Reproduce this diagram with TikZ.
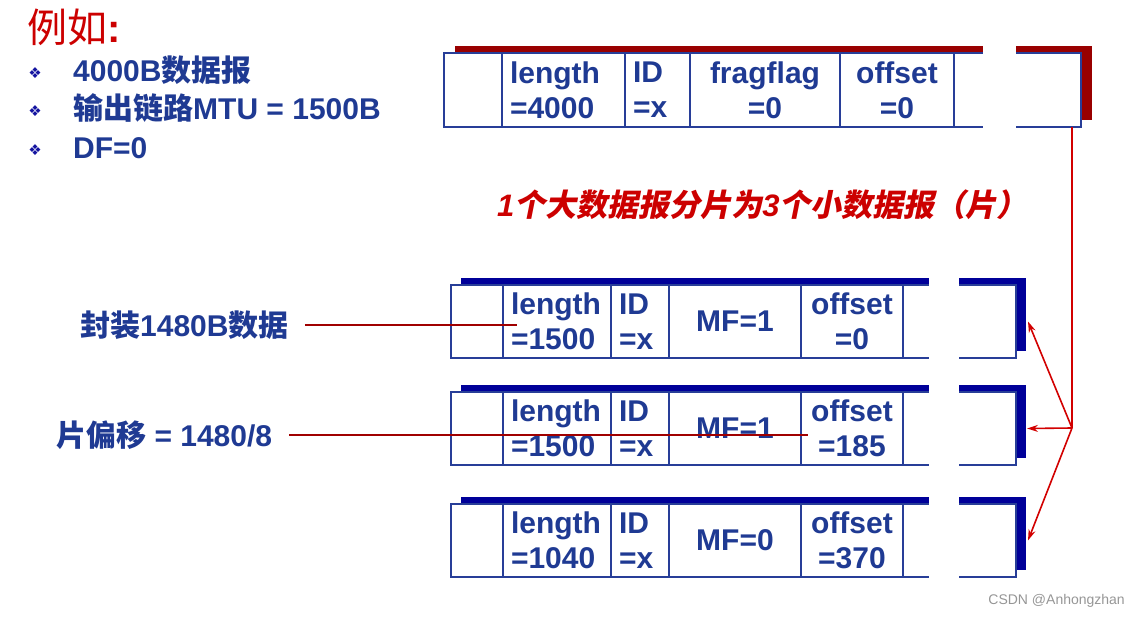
\documentclass[tikz,border=0pt]{standalone}
\usepackage{fontspec}
\setmainfont{Liberation Sans}
\newfontfamily\cjk{Noto Sans CJK SC}
\newfontfamily\cjkit{Noto Sans CJK SC}[FakeSlant=0.2]
\newfontfamily\sym{DejaVu Sans}
\usetikzlibrary{arrows.meta,positioning,backgrounds}

\definecolor{txtblue}{RGB}{31,58,147}
\definecolor{boxblue}{RGB}{40,62,152}
\definecolor{dotblue}{RGB}{20,20,160}
\definecolor{shred}{RGB}{153,0,0}
\definecolor{shnavy}{RGB}{0,0,153}
\definecolor{titlered}{RGB}{204,0,0}
\definecolor{capred}{RGB}{204,0,0}
\definecolor{leadred}{RGB}{160,0,0}
\definecolor{arrred}{RGB}{210,0,0}
\definecolor{wmgray}{RGB}{150,150,150}

\begin{document}
\begin{tikzpicture}[
  x=1pt,y=-1pt,
  cell/.style={draw=boxblue,line width=2pt,fill=white,outer sep=0pt,inner xsep=8pt,inner ysep=0pt,
    minimum height=74pt,text=txtblue,font=\fontsize{30}{35}\selectfont\bfseries},
  frag/.style={cell,minimum height=73pt},
  lbl/.style={text=txtblue,inner sep=0pt,anchor=west,font=\fontsize{30}{34}\selectfont\bfseries},
  dot/.style={text=dotblue,inner sep=0pt,font=\sym\fontsize{15}{15}\selectfont},
  lead/.style={draw=leadred,line width=2pt},
  arr/.style={draw=arrred,line width=1.6pt,-{Stealth[length=11pt,width=7pt]}}
]
\useasboundingbox (0,0) rectangle (1140,620);

% Heading and bullets
\node[anchor=west,inner sep=0pt,text=titlered,font=\fontsize{40}{42}\selectfont] (title) at (27,27) {{\cjk 例如}\textbf{:}};
\node[dot] (m1) at (35,73) {❖};
\node[dot] (m2) at (35,111) {❖};
\node[dot] (m3) at (35,150) {❖};
\node[lbl] (t1) at (73,70) {4000B{\cjk 数据报}};
\node[lbl] (t2) at (73,108) {{\cjk 输出链路}MTU = 1500B};
\node[lbl] (t3) at (73,148) {DF=0};

% Original datagram
\node[cell,text width=42pt,anchor=north west] (d1) at (444,53) {};
\node[cell,text width=107pt,align=left,right=0pt of d1] (d2) {length\\=4000};
\node[cell,text width=49pt,align=left,right=0pt of d2] (d3) {ID\\=x};
\node[cell,text width=134pt,align=center,right=0pt of d3] (d4) {fragflag\\=0};
\node[cell,text width=98pt,align=center,right=0pt of d4] (d5) {offset\\=0};
\node[cell,text width=111pt,right=0pt of d5] (d6) {};

\node[anchor=west,inner sep=0pt,text=capred,font=\fontsize{31}{34}\selectfont\bfseries\itshape] (cap) at (497,205)
  {1{\cjkit 个大数据报分片为}3{\cjkit 个小数据报（片）}};

% Fragment 1
\node[frag,text width=36pt,anchor=north west] (p1) at (451,285) {};
\node[frag,text width=92pt,align=left,right=0pt of p1] (p2) {length\\=1500};
\node[frag,text width=42pt,align=left,right=0pt of p2] (p3) {ID\\=x};
\node[frag,text width=116pt,align=center,right=0pt of p3] (p4) {MF=1};
\node[frag,text width=86pt,align=center,right=0pt of p4] (p5) {offset\\=0};
\node[frag,text width=97pt,right=0pt of p5] (p6) {};
% Fragment 2
\node[frag,text width=36pt,anchor=north west] (q1) at (451,392) {};
\node[frag,text width=92pt,align=left,right=0pt of q1] (q2) {length\\=1500};
\node[frag,text width=42pt,align=left,right=0pt of q2] (q3) {ID\\=x};
\node[frag,text width=116pt,align=center,right=0pt of q3] (q4) {MF=1};
\node[frag,text width=86pt,align=center,right=0pt of q4] (q5) {offset\\=185};
\node[frag,text width=97pt,right=0pt of q5] (q6) {};
% Fragment 3
\node[frag,text width=36pt,anchor=north west] (r1) at (451,504) {};
\node[frag,text width=92pt,align=left,right=0pt of r1] (r2) {length\\=1040};
\node[frag,text width=42pt,align=left,right=0pt of r2] (r3) {ID\\=x};
\node[frag,text width=116pt,align=center,right=0pt of r3] (r4) {MF=0};
\node[frag,text width=86pt,align=center,right=0pt of r4] (r5) {offset\\=370};
\node[frag,text width=97pt,right=0pt of r5] (r6) {};

% shadows
\begin{pgfonlayer}{background}
\fill[shred] ([shift={(11,-7)}]d1.north west) rectangle ([shift={(11,-7)}]d6.south east);
\fill[shnavy] ([shift={(10,-7)}]p1.north west) rectangle ([shift={(10,-7)}]p6.south east);
\fill[shnavy] ([shift={(10,-7)}]q1.north west) rectangle ([shift={(10,-7)}]q6.south east);
\fill[shnavy] ([shift={(10,-7)}]r1.north west) rectangle ([shift={(10,-7)}]r6.south east);
\end{pgfonlayer}
% gaps in the frames
\fill[white] (983,43) rectangle (1016,130);
\fill[white] (929,275) rectangle (959,360);
\fill[white] (929,382) rectangle (959,468);
\fill[white] (929,494) rectangle (959,580);

% Left labels
\node[lbl] (enc) at (80,325) {{\cjk 封装}1480B{\cjk 数据}};
\node[lbl] (offl) at (56,435) {{\cjk 片偏移} = 1480/8};
\draw[lead] ([xshift=16pt]enc.east) -- (p2.west |- enc.east) -- ++(14,0);
\draw[lead] ([xshift=17pt]offl.east) -- (q5.west |- offl.east) -- ++(7,0);

% Split arrows
\coordinate (split) at (1072,428);
\draw[arrred,line width=1.6pt] (split |- d6.south) -- (split);
\draw[arr] (split) -- ([xshift=12pt]p6.east);
\draw[arr] (split) -- ([xshift=11pt]q6.east);
\draw[arr] (split) -- ([xshift=12pt]r6.east);

\node[anchor=east,inner sep=0pt,text=wmgray,font=\fontsize{14}{16}\selectfont] (wm) at (1125,601) {CSDN @Anhongzhan};
\end{tikzpicture}
\end{document}
